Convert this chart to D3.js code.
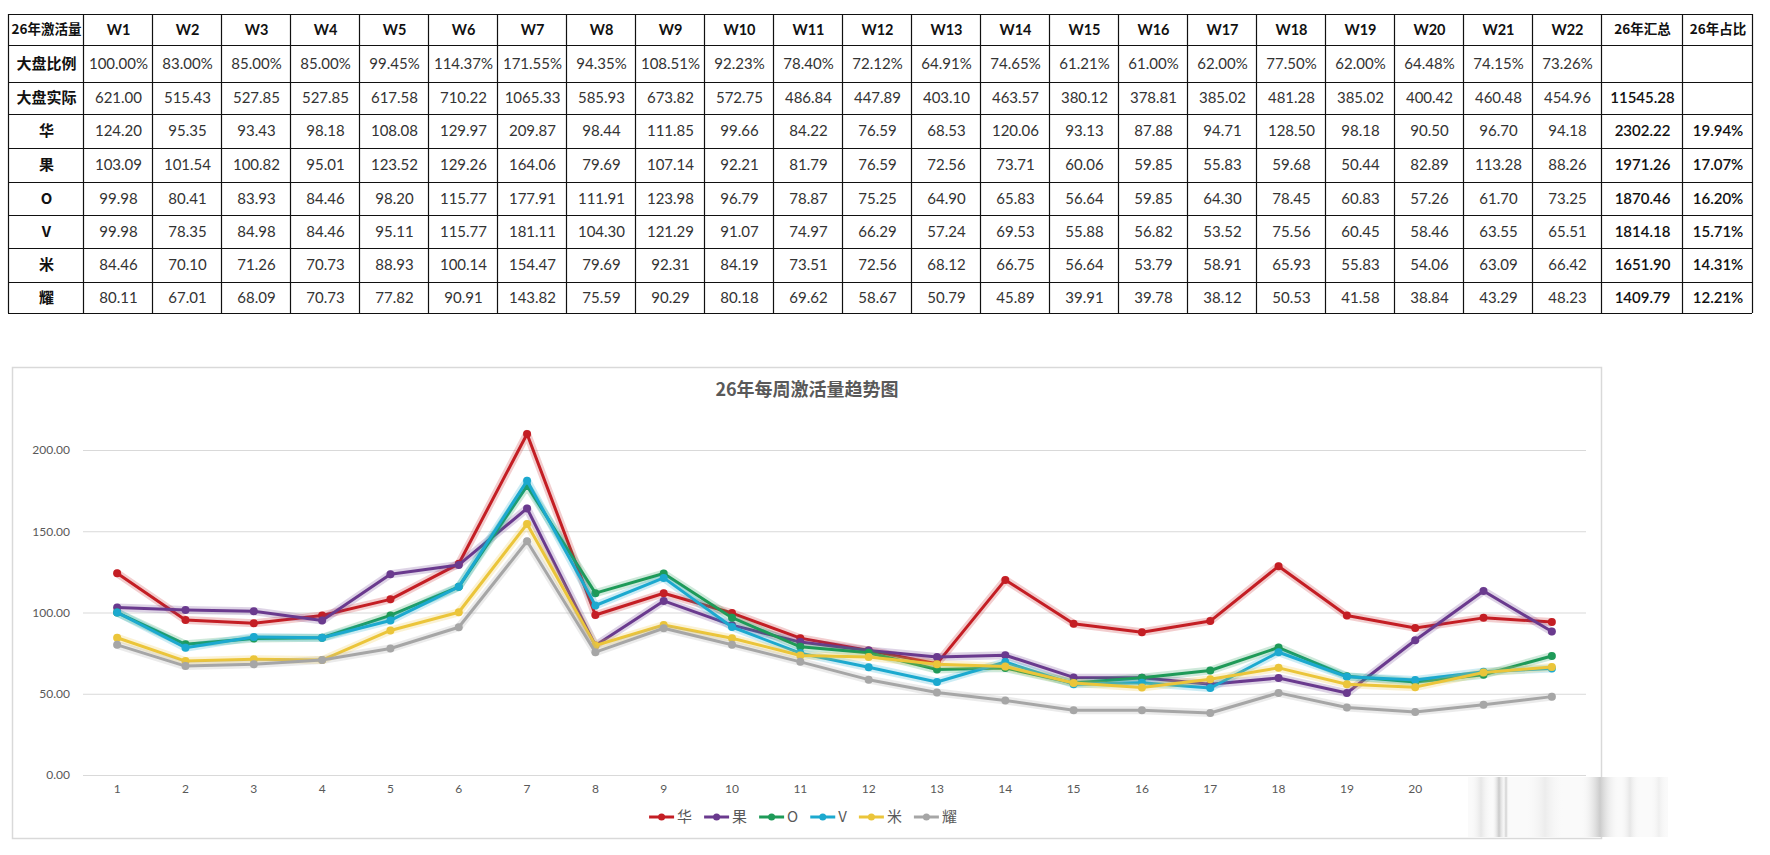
<!DOCTYPE html>
<html>
<head>
<meta charset="utf-8">
<script src="https://cdn.jsdelivr.net/npm/d3@7"></script>
<style>
  html, body { margin: 0; padding: 0; background: #ffffff; }
  svg { display: block; }
</style>
</head>
<body>
<div id="chart"></div>
<script>
// ---------------- DATA ----------------
const weeks = ["W1","W2","W3","W4","W5","W6","W7","W8","W9","W10","W11","W12","W13","W14","W15","W16","W17","W18","W19","W20","W21","W22"];
const weekNums = [1,2,3,4,5,6,7,8,9,10,11,12,13,14,15,16,17,18,19,20,21,22];
const marketRatio = [100.00, 83.00, 85.00, 85.00, 99.45, 114.37, 171.55, 94.35, 108.51, 92.23, 78.40, 72.12, 64.91, 74.65, 61.21, 61.00, 62.00, 77.50, 62.00, 64.48, 74.15, 73.26];
const marketActual = [621.00, 515.43, 527.85, 527.85, 617.58, 710.22, 1065.33, 585.93, 673.82, 572.75, 486.84, 447.89, 403.10, 463.57, 380.12, 378.81, 385.02, 481.28, 385.02, 400.42, 460.48, 454.96];
const marketTotal = 11545.28;

const seriesNames = ["华", "果", "O", "V", "米", "耀"];
const huaValues = [124.20, 95.35, 93.43, 98.18, 108.08, 129.97, 209.87, 98.44, 111.85, 99.66, 84.22, 76.59, 68.53, 120.06, 93.13, 87.88, 94.71, 128.50, 98.18, 90.50, 96.70, 94.18];
const guoValues = [103.09, 101.54, 100.82, 95.01, 123.52, 129.26, 164.06, 79.69, 107.14, 92.21, 81.79, 76.59, 72.56, 73.71, 60.06, 59.85, 55.83, 59.68, 50.44, 82.89, 113.28, 88.26];
const oValues   = [99.98, 80.41, 83.93, 84.46, 98.20, 115.77, 177.91, 111.91, 123.98, 96.79, 78.87, 75.25, 64.90, 65.83, 56.64, 59.85, 64.30, 78.45, 60.83, 57.26, 61.70, 73.25];
const vValues   = [99.98, 78.35, 84.98, 84.46, 95.11, 115.77, 181.11, 104.30, 121.29, 91.07, 74.97, 66.29, 57.24, 69.53, 55.88, 56.82, 53.52, 75.56, 60.45, 58.46, 63.55, 65.51];
const miValues  = [84.46, 70.10, 71.26, 70.73, 88.93, 100.14, 154.47, 79.69, 92.31, 84.19, 73.51, 72.56, 68.12, 66.75, 56.64, 53.79, 58.91, 65.93, 55.83, 54.06, 63.09, 66.42];
const yaoValues = [80.11, 67.01, 68.09, 70.73, 77.82, 90.91, 143.82, 75.59, 90.29, 80.18, 69.62, 58.67, 50.79, 45.89, 39.91, 39.78, 38.12, 50.53, 41.58, 38.84, 43.29, 48.23];
const seriesTotals = [2302.22, 1971.26, 1870.46, 1814.18, 1651.90, 1409.79];
const seriesShares = [19.94, 17.07, 16.20, 15.71, 14.31, 12.21];

const yTicks = [0, 50, 100, 150, 200];
const chartTitle = "26年每周激活量趋势图";
const tableCorner = "26年激活量";
const rowLabelRatio = "大盘比例";
const rowLabelActual = "大盘实际";
const colTotal = "26年汇总";
const colShare = "26年占比";

// ---------------- STYLE ----------------
const seriesColors = ["#C41E24", "#6A3A8E", "#1E9A58", "#1CA9CF", "#EBC53A", "#A6A6A6"];
const seriesValues = [huaValues, guoValues, oValues, vValues, miValues, yaoValues];

const W = 1770, H = 855;
const svg = d3.select("#chart").append("svg").attr("width", W).attr("height", H);

const cjk = "'Noto Sans CJK SC', 'Noto Sans', sans-serif";
const numFont = "Lato, 'Open Sans', sans-serif";

// ---------------- TABLE ----------------
const colEdges = [8, 83];
weeks.forEach((w, i) => colEdges.push(83 + 69 * (i + 1)));
colEdges.push(colEdges[colEdges.length - 1] + 81);
colEdges.push(colEdges[colEdges.length - 1] + 70);
const rowEdges = [14, 45, 82, 114, 148, 182, 215, 248, 282, 313];

const fmt2 = d3.format(".2f");
const tableRows = [];
tableRows.push({ label: tableCorner, cells: weeks.concat([colTotal, colShare]), header: true });
tableRows.push({ label: rowLabelRatio, cells: marketRatio.map(v => fmt2(v) + "%").concat(["", ""]) });
tableRows.push({ label: rowLabelActual, cells: marketActual.map(fmt2).concat([fmt2(marketTotal), ""]) });
seriesNames.forEach((n, si) => {
  tableRows.push({ label: n, cells: seriesValues[si].map(fmt2).concat([fmt2(seriesTotals[si]), fmt2(seriesShares[si]) + "%"]) });
});

const tbl = svg.append("g").attr("class", "table");
// grid lines
tbl.selectAll("line.h").data(rowEdges).join("line")
  .attr("x1", colEdges[0]).attr("x2", colEdges[colEdges.length - 1])
  .attr("y1", d => d + 0.5).attr("y2", d => d + 0.5)
  .attr("stroke", "#111").attr("stroke-width", 1.2);
tbl.selectAll("line.v").data(colEdges).join("line")
  .attr("y1", rowEdges[0]).attr("y2", rowEdges[rowEdges.length - 1])
  .attr("x1", d => d + 0.5).attr("x2", d => d + 0.5)
  .attr("stroke", "#111").attr("stroke-width", 1.2);

tableRows.forEach((row, ri) => {
  const yMid = (rowEdges[ri] + rowEdges[ri + 1]) / 2;
  const isSeries = ri >= 3;
  tbl.append("text")
    .attr("x", (colEdges[0] + colEdges[1]) / 2 + 1)
    .attr("y", yMid)
    .attr("dy", "0.36em")
    .attr("text-anchor", "middle")
    .attr("font-family", cjk)
    .attr("font-weight", 700)
    .attr("font-size", ri === 0 ? 13.5 : (isSeries ? 15 : 15))
    .attr("fill", "#111")
    .text(row.label);
  row.cells.forEach((c, ci) => {
    const x0 = colEdges[ci + 1], x1 = colEdges[ci + 2];
    const isExtra = ci >= 22;
    const isHeader = row.header;
    tbl.append("text")
      .attr("x", (x0 + x1) / 2 + 1)
      .attr("y", yMid)
      .attr("dy", "0.36em")
      .attr("text-anchor", "middle")
      .attr("font-family", (isHeader && isExtra) ? cjk : numFont)
      .attr("font-weight", isHeader ? 700 : (isExtra ? 600 : 400))
      .attr("font-size", isHeader ? (isExtra ? 13.5 : 14.5) : 15)
      .attr("fill", isHeader || isExtra ? "#111" : "#333")
      .text(c);
  });
});

// ---------------- CHART ----------------
const frame = { x: 12, y: 367, w: 1589, h: 471 };
svg.append("rect")
  .attr("x", frame.x + 0.5).attr("y", frame.y + 0.5)
  .attr("width", frame.w).attr("height", frame.h)
  .attr("fill", "#fff").attr("stroke", "#D9D9D9").attr("stroke-width", 1.5);

svg.append("text")
  .attr("x", 807).attr("y", 390).attr("dy", "0.36em")
  .attr("text-anchor", "middle")
  .attr("font-family", cjk).attr("font-weight", 700).attr("font-size", 18)
  .attr("fill", "#595959")
  .text(chartTitle);

const plot = { left: 83, right: 1586, top: 360, bottom: 775 };
const x = d3.scaleBand().domain(weekNums).range([plot.left, plot.right]).padding(0);
const y = d3.scaleLinear().domain([0, 200]).range([plot.bottom, 450]);
const cx = d => x(d) + x.bandwidth() / 2;

// y grid + labels
const yAxis = svg.append("g").attr("transform", `translate(${plot.left},0)`)
  .call(d3.axisLeft(y).tickValues(yTicks).tickFormat(fmt2).tickSize(-(plot.right - plot.left)).tickPadding(13));
yAxis.select(".domain").remove();
yAxis.selectAll(".tick line").attr("stroke", "#D9D9D9").attr("stroke-width", 1);
yAxis.selectAll(".tick text").attr("font-family", numFont).attr("font-size", 12).attr("fill", "#595959");

// x labels
const xAxis = svg.append("g").attr("transform", `translate(0,${plot.bottom})`)
  .call(d3.axisBottom(x).tickSize(0).tickPadding(9));
xAxis.select(".domain").remove();
xAxis.selectAll(".tick text").attr("font-family", numFont).attr("font-size", 12).attr("fill", "#595959");

// lines
const line = d3.line().x((d, i) => cx(weekNums[i])).y(d => y(d));
const seriesG = svg.append("g");
seriesValues.forEach((vals, si) => {
  const g = seriesG.append("g");
  g.append("path").datum(vals).attr("d", line)
    .attr("fill", "none").attr("stroke", seriesColors[si]).attr("stroke-opacity", 0.22)
    .attr("stroke-width", 8).attr("stroke-linejoin", "round").attr("stroke-linecap", "round");
  g.append("path").datum(vals).attr("d", line)
    .attr("fill", "none").attr("stroke", seriesColors[si])
    .attr("stroke-width", 3).attr("stroke-linejoin", "round");
  g.selectAll("circle").data(vals).join("circle")
    .attr("cx", (d, i) => cx(weekNums[i])).attr("cy", d => y(d))
    .attr("r", 4).attr("fill", seriesColors[si]);
});

// legend
const legend = svg.append("g");
const itemW = [];
let tmp = svg.append("text").attr("font-family", cjk).attr("font-size", 15);
seriesNames.forEach(n => { tmp.text(n); itemW.push(28 + tmp.node().getComputedTextLength() + 12); });
tmp.remove();
const legendTotal = d3.sum(itemW) - 12;
let lx = 803 - legendTotal / 2;
const ly = 817;
seriesNames.forEach((n, si) => {
  const g = legend.append("g").attr("transform", `translate(${lx},${ly})`);
  g.append("line").attr("x1", 0).attr("x2", 25).attr("y1", 0).attr("y2", 0)
    .attr("stroke", seriesColors[si]).attr("stroke-width", 3);
  g.append("circle").attr("cx", 12.5).attr("cy", 0).attr("r", 3.5).attr("fill", seriesColors[si]);
  g.append("text").attr("x", 28).attr("y", 0).attr("dy", "0.36em")
    .attr("font-family", cjk).attr("font-size", 15).attr("fill", "#595959").text(n);
  lx += itemW[si];
});

// smudge artefact at bottom-right (covers last x labels)
const defs = svg.append("defs");
const grad = defs.append("linearGradient").attr("id", "streak").attr("x1", 0).attr("x2", 1).attr("y1", 0).attr("y2", 0);
grad.append("stop").attr("offset", "0%").attr("stop-color", "#fff").attr("stop-opacity", 0);
grad.append("stop").attr("offset", "50%").attr("stop-color", "#bdbdbd").attr("stop-opacity", 0.9);
grad.append("stop").attr("offset", "100%").attr("stop-color", "#fff").attr("stop-opacity", 0);
const smudge = svg.append("g");
smudge.append("rect").attr("x", 1468).attr("y", 777).attr("width", 200).attr("height", 60).attr("fill", "#fafafa");
const streaks = [[1470, 22, 0.35], [1492, 14, 0.9], [1503, 6, 0.8], [1525, 40, 0.25], [1580, 40, 0.85], [1620, 20, 0.35], [1650, 18, 0.2]];
streaks.forEach(s => {
  smudge.append("rect").attr("x", s[0]).attr("y", 777).attr("width", s[1]).attr("height", 60)
    .attr("fill", "url(#streak)").attr("opacity", s[2]);
});
</script>
</body>
</html>
